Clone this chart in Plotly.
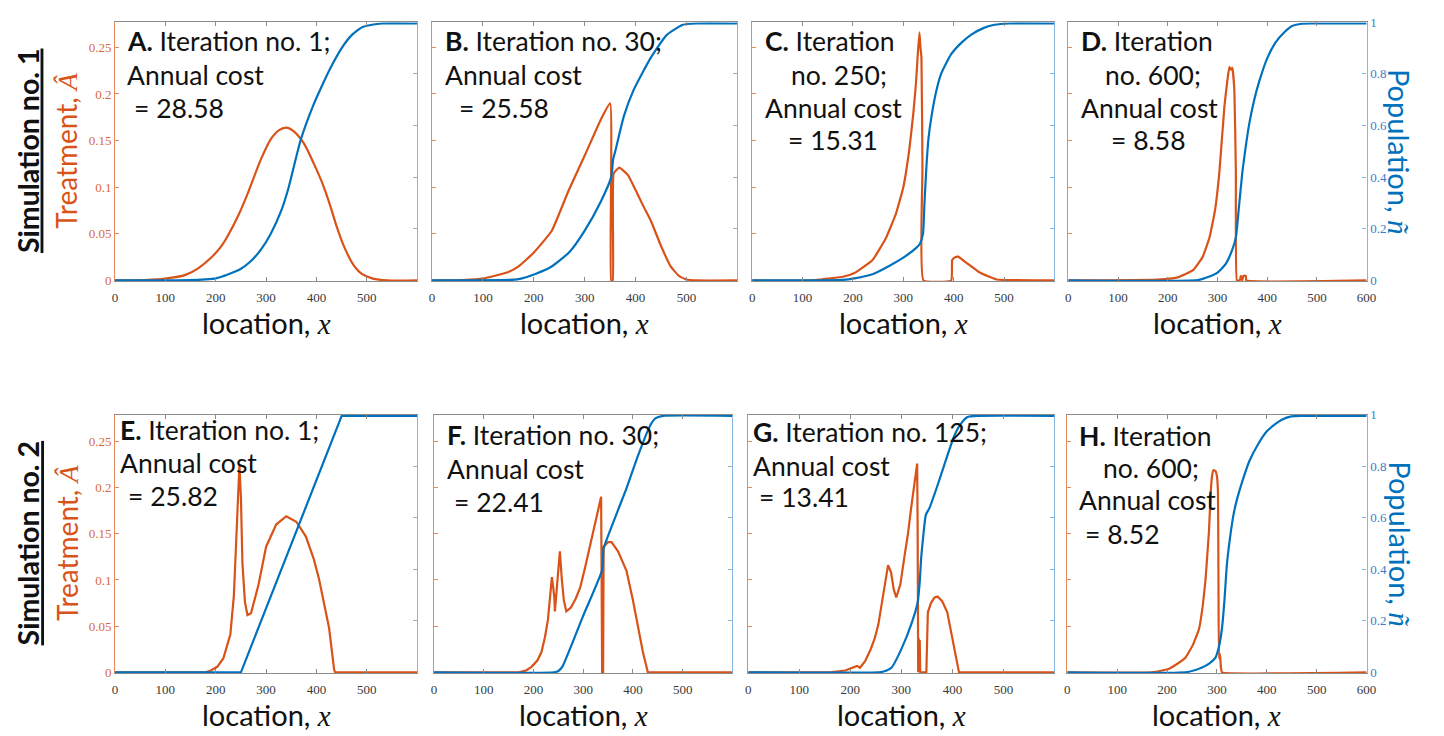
import plotly.graph_objects as go

W, H = 1444, 736
ORANGE = "#D95319"
BLUE = "#0072BD"
ORANGE_AX = "#E48A62"
BLUE_AX = "#86B6E0"

# ---------------- data ----------------
# Panel A  (simulation 1, iteration 1)
A_tx = [0, 60, 100, 140, 165, 190, 210, 224, 245, 264, 289, 310, 325, 340, 355, 375, 395, 414, 428, 440, 455, 473, 490, 512, 540, 600]
A_treat = [0, 0.0005, 0.002, 0.006, 0.013, 0.024, 0.036, 0.048, 0.070, 0.094, 0.129, 0.152, 0.161, 0.164, 0.160, 0.147, 0.125, 0.101, 0.079, 0.058, 0.036, 0.017, 0.007, 0.002, 0, 0]
A_px = [0, 150, 180, 200, 224, 250, 270, 290, 309, 330, 345, 368, 394, 410, 427, 450, 470, 490, 510, 530, 600]
A_pop = [0, 0.001, 0.004, 0.008, 0.023, 0.045, 0.075, 0.12, 0.18, 0.27, 0.362, 0.54, 0.68, 0.75, 0.82, 0.90, 0.95, 0.98, 0.99, 0.995, 0.995]

# Panel B  (simulation 1, iteration 30)
B_tx = [0, 60, 100, 150, 170, 200, 235, 268, 300, 332, 350, 352, 355, 357, 368, 385, 400, 415, 430, 450, 469, 485, 500, 520, 600]
B_treat = [0, 0.0005, 0.002, 0.009, 0.015, 0.030, 0.053, 0.096, 0.134, 0.173, 0.190, 0.0, 0.0, 0.115, 0.121, 0.113, 0.097, 0.080, 0.064, 0.037, 0.015, 0.005, 0.001, 0, 0]
B_px = [0, 150, 170, 203, 235, 270, 300, 332, 352, 356, 360, 377, 396, 430, 461, 493, 520, 600]
B_pop = [0, 0.002, 0.005, 0.025, 0.054, 0.11, 0.193, 0.307, 0.40, 0.47, 0.50, 0.636, 0.737, 0.863, 0.95, 0.99, 0.995, 0.995]

# Panel C  (simulation 1, iteration 250)
C_tx = [0, 120, 150, 180, 203, 239, 265, 285, 300, 312, 320, 325, 329, 332, 334, 336, 338, 340, 395, 397, 403, 409, 420, 435, 450, 468, 485, 600]
C_treat = [0, 0, 0.002, 0.004, 0.008, 0.022, 0.045, 0.071, 0.100, 0.141, 0.180, 0.211, 0.245, 0.266, 0.250, 0.239, 0.120, 0.0, 0.0, 0.022, 0.025, 0.0255, 0.021, 0.015, 0.009, 0.0045, 0.001, 0]
C_px = [0, 180, 203, 240, 270, 303, 325, 333, 339, 342, 346, 350, 356, 365, 375, 395, 415, 435, 460, 481, 510, 600]
C_pop = [0, 0.002, 0.008, 0.025, 0.054, 0.092, 0.125, 0.142, 0.18, 0.30, 0.446, 0.55, 0.636, 0.73, 0.80, 0.876, 0.92, 0.952, 0.978, 0.99, 0.995, 0.995]

# Panel D  (simulation 1, iteration 600)
D_tx = [0, 180, 218, 251, 270, 284, 295, 304, 314, 320, 324, 327, 330, 334, 337, 339, 345, 347, 350, 352, 357, 358, 600]
D_treat = [0, 0.001, 0.003, 0.011, 0.025, 0.046, 0.075, 0.117, 0.187, 0.215, 0.229, 0.226, 0.228, 0.204, 0.117, 0.0, 0.0, 0.005, 0.0, 0.005, 0.005, 0.0, 0]
D_px = [0, 260, 284, 300, 317, 330, 337, 343, 350, 357, 364, 374, 384, 400, 417, 435, 450, 470, 490, 600]
D_pop = [0, 0.001, 0.015, 0.03, 0.065, 0.12, 0.166, 0.28, 0.418, 0.52, 0.607, 0.70, 0.771, 0.86, 0.922, 0.962, 0.985, 0.994, 0.995, 0.995]

# Panel E  (simulation 2, iteration 1)
E_tx = [0, 180, 190, 203, 215, 222, 229, 236, 239, 244, 247, 250, 253, 258, 263, 270, 285, 300, 320, 340, 360, 379, 395, 405, 415, 425, 435, 437, 600]
E_treat = [0, 0, 0.002, 0.006, 0.015, 0.027, 0.041, 0.083, 0.118, 0.189, 0.224, 0.189, 0.118, 0.076, 0.062, 0.064, 0.095, 0.136, 0.160, 0.169, 0.163, 0.147, 0.122, 0.101, 0.076, 0.048, 0.003, 0, 0]
E_px = [0, 250, 450, 600]
E_pop = [0, 0, 0.995, 0.995]

# Panel F  (simulation 2, iteration 30)
F_tx = [0, 170, 185, 196, 208, 216, 223, 229, 233, 237, 240, 242, 243, 247, 250, 253, 257, 261, 266, 275, 285, 294, 304, 314, 325, 336, 337, 338, 340, 341, 350, 357, 370, 387, 400, 407, 415, 420, 430, 600]
F_treat = [0, 0, 0.002, 0.006, 0.013, 0.022, 0.038, 0.057, 0.080, 0.103, 0.090, 0.080, 0.066, 0.095, 0.118, 0.131, 0.100, 0.078, 0.066, 0.070, 0.080, 0.092, 0.114, 0.138, 0.163, 0.190, 0.10, 0.0, 0.0, 0.136, 0.141, 0.141, 0.131, 0.110, 0.078, 0.057, 0.035, 0.022, 0, 0]
F_px = [0, 242, 250, 258, 300, 338, 341, 360, 387, 410, 434, 445, 460, 600]
F_pop = [0, 0, 0.005, 0.022, 0.22, 0.397, 0.48, 0.58, 0.714, 0.84, 0.955, 0.985, 0.995, 0.995]

# Panel G  (simulation 2, iteration 125)
G_tx = [0, 160, 190, 205, 213, 219, 229, 240, 248, 255, 261, 268, 274, 280, 285, 290, 298, 306, 313, 319, 326, 331, 332, 333, 334, 335, 336, 337, 349, 351, 352, 358, 365, 371, 380, 390, 397, 403, 410, 413, 600]
G_treat = [0, 0, 0.002, 0.005, 0.007, 0.005, 0.012, 0.025, 0.037, 0.052, 0.072, 0.095, 0.116, 0.108, 0.090, 0.081, 0.095, 0.125, 0.150, 0.177, 0.205, 0.226, 0.15, 0.0, 0.037, 0.0, 0.035, 0.0, 0.0, 0.045, 0.065, 0.075, 0.081, 0.082, 0.077, 0.065, 0.045, 0.026, 0.008, 0, 0]
G_px = [0, 255, 265, 281, 300, 320, 332, 336, 339, 344, 348, 355, 370, 385, 403, 415, 429, 450, 600]
G_pop = [0, 0, 0.003, 0.019, 0.09, 0.19, 0.271, 0.35, 0.448, 0.55, 0.611, 0.637, 0.72, 0.81, 0.914, 0.96, 0.99, 0.995, 0.995]

# Panel H  (simulation 2, iteration 600)
H_tx = [0, 170, 190, 204, 220, 237, 252, 264, 271, 277, 281, 284, 287, 290, 293, 297, 300, 302, 303, 304, 306, 308, 310, 600]
H_treat = [0, 0, 0.002, 0.004, 0.009, 0.016, 0.030, 0.047, 0.070, 0.100, 0.130, 0.153, 0.190, 0.212, 0.219, 0.218, 0.212, 0.195, 0.10, 0.015, 0.02, 0.005, 0.0, 0]
H_px = [0, 240, 270, 285, 297, 304, 310, 315, 320, 326, 333, 340, 350, 365, 383, 400, 416, 430, 449, 470, 600]
H_pop = [0, 0.001, 0.019, 0.035, 0.057, 0.10, 0.17, 0.28, 0.421, 0.52, 0.61, 0.67, 0.736, 0.82, 0.887, 0.935, 0.962, 0.98, 0.993, 0.995, 0.995]

X_TICKS = [0, 100, 200, 300, 400, 500]
X_TICKS_LAST = [0, 100, 200, 300, 400, 500, 600]
TREAT_TICKS = [0, 0.05, 0.1, 0.15, 0.2, 0.25]
TREAT_LABELS = ["0", "0.05", "0.1", "0.15", "0.2", "0.25"]
POP_TICKS = [0, 0.2, 0.4, 0.6, 0.8, 1]
POP_LABELS = ["0", "0.2", "0.4", "0.6", "0.8", "1"]

PANEL_TEXT = {
    "A": [("<b>A.</b> Iteration no. 1;", 123, 35), ("Annual cost", 123, 69), ("= 28.58", 130, 103)],
    "B": [("<b>B.</b> Iteration no. 30;", 444, 35), ("Annual cost", 444, 69), ("= 25.58", 458, 103)],
    "C": [("<b>C.</b> Iteration", 767, 35), ("no. 250;", 793, 69), ("Annual cost", 767, 103), ("= 15.31", 790, 136)],
    "D": [("<b>D.</b> Iteration", 1086, 35), ("no. 600;", 1110, 69), ("Annual cost", 1086, 103), ("= 8.58", 1116, 136)],
    "E": [("<b>E.</b> Iteration no. 1;", 116, 431), ("Annual cost", 116, 465), ("= 25.82", 124, 498)],
    "F": [("<b>F.</b> Iteration no. 30;", 446, 436), ("Annual cost", 446, 471), ("= 22.41", 453, 505)],
    "G": [("<b>G.</b> Iteration no. 125;", 755, 433), ("Annual cost", 755, 468), ("= 13.41", 761, 500)],
    "H": [("<b>H.</b> Iteration", 1084, 437), ("no. 600;", 1108, 470), ("Annual cost", 1084, 503), ("= 8.52", 1090, 537)],
}

# ---------------- layout geometry (pixels) ----------------
ROW1 = (15.5, 279.5)
ROW2 = (415.5, 679)
panels = [
    ("A", A_tx, A_treat, A_px, A_pop, (113, 418), ROW1, 0.277),
    ("B", B_tx, B_treat, B_px, B_pop, (433, 741), ROW1, 0.277),
    ("C", C_tx, C_treat, C_px, C_pop, (756, 1061), ROW1, 0.277),
    ("D", D_tx, D_treat, D_px, D_pop, (1075, 1376), ROW1, 0.277),
    ("E", E_tx, E_treat, E_px, E_pop, (113, 418), ROW2, 0.279),
    ("F", F_tx, F_treat, F_px, F_pop, (435, 736), ROW2, 0.279),
    ("G", G_tx, G_treat, G_px, G_pop, (752, 1061), ROW2, 0.279),
    ("H", H_tx, H_treat, H_px, H_pop, (1074, 1376), ROW2, 0.279),
]
TREAT_SMOOTH = {"A": 0.7, "B": 0.4, "C": 0.35, "D": 0.3, "H": 0.3}

fig = go.Figure()
layout = {}
annotations = []
TEXT_FONT = "Lato, Carlito, sans-serif"
TICK_FONT = dict(family="Liberation Serif, Times New Roman, serif", size=13)
MATH = "<i><span style='font-family:Liberation Serif'>{}</span></i>"

for i, (name, tx, tv, px, pv, (x0, x1), (y0, y1), tmax) in enumerate(panels):
    n = i + 1
    xa = "x" if n == 1 else f"x{n}"
    yl_n = 2 * n - 1
    yr_n = 2 * n
    yl = "y" if yl_n == 1 else f"y{yl_n}"
    yr = f"y{yr_n}"
    col = i % 4
    if name in TREAT_SMOOTH:
        tshape = dict(shape="spline", smoothing=TREAT_SMOOTH[name])
    else:
        tshape = dict(shape="linear")
    pshape = dict(shape="linear") if name == "E" else dict(shape="spline", smoothing=0.5)
    fig.add_trace(go.Scatter(x=tx, y=tv, mode="lines", line=dict(color=ORANGE, width=2.2, **tshape),
                             xaxis=xa, yaxis=yl, showlegend=False, hoverinfo="skip"))
    fig.add_trace(go.Scatter(x=px, y=pv, mode="lines", line=dict(color=BLUE, width=2.2, **pshape),
                             xaxis=xa, yaxis=yr, showlegend=False, hoverinfo="skip"))
    ydom = [1 - y1 / H, 1 - y0 / H]
    last = col == 3
    layout["xaxis" if n == 1 else f"xaxis{n}"] = dict(
        domain=[x0 / W, x1 / W], anchor=yl, range=[0, 600],
        tickvals=X_TICKS_LAST if last else X_TICKS,
        showline=True, linecolor="#8c8c8c", linewidth=1, mirror="ticks",
        ticks="inside", ticklen=4, tickcolor="#8c8c8c",
        showgrid=False, zeroline=False,
        tickfont=dict(color="#3a3a3a", **TICK_FONT), ticklabelstandoff=4,
    )
    layout["yaxis" if yl_n == 1 else f"yaxis{yl_n}"] = dict(
        domain=ydom, anchor=xa, range=[-0.0008, tmax],
        tickvals=TREAT_TICKS, ticktext=TREAT_LABELS, showticklabels=(col == 0),
        showline=True, linecolor=ORANGE_AX, linewidth=1,
        ticks="inside", ticklen=4, tickcolor=ORANGE_AX,
        showgrid=False, zeroline=False,
        tickfont=dict(color="#DA6A3A", **TICK_FONT),
    )
    layout[f"yaxis{yr_n}"] = dict(
        overlaying=yl, anchor=xa, side="right", range=[-0.003, 1.0],
        tickvals=POP_TICKS, ticktext=POP_LABELS, showticklabels=last,
        showline=True, linecolor=BLUE_AX, linewidth=1.3,
        ticks="inside", ticklen=4, tickcolor=BLUE_AX,
        showgrid=False, zeroline=False,
        tickfont=dict(color="#3C7CC4", **TICK_FONT),
    )
    for (txt, X, Y) in PANEL_TEXT[name]:
        annotations.append(dict(text=txt, x=X / W, y=1 - Y / H, xref="paper", yref="paper",
                                xanchor="left", yanchor="middle", showarrow=False,
                                font=dict(family=TEXT_FONT, size=26.5, color="#111111")))
    # x-axis title
    annotations.append(dict(text="location, " + MATH.format("x"),
                            x=(x0 + x1) / 2 / W, y=1 - (y1 + 42) / H, xref="paper", yref="paper",
                            xanchor="center", yanchor="middle", showarrow=False,
                            font=dict(family=TEXT_FONT, size=29, color="#111111")))

for row_label, yc in (("Simulation no. 1", 146), ("Simulation no. 2", 546)):
    annotations.append(dict(text=f"<b>{row_label}</b>", x=25 / W, y=1 - yc / H, xref="paper", yref="paper",
                            xanchor="center", yanchor="middle", showarrow=False, textangle=-90,
                            font=dict(family=TEXT_FONT, size=28.5, color="#111111", lineposition="under")))
    annotations.append(dict(text="Treatment, " + MATH.format("Â"),
                            x=64 / W, y=1 - yc / H, xref="paper", yref="paper",
                            xanchor="center", yanchor="middle", showarrow=False, textangle=-90,
                            font=dict(family=TEXT_FONT, size=28, color=ORANGE)))
    annotations.append(dict(text="Population, " + MATH.format("ñ"),
                            x=1410 / W, y=1 - (yc + 2) / H, xref="paper", yref="paper",
                            xanchor="center", yanchor="middle", showarrow=False, textangle=90,
                            font=dict(family=TEXT_FONT, size=29, color=BLUE)))

fig.update_layout(
    width=W, height=H, margin=dict(l=0, r=0, t=0, b=0),
    paper_bgcolor="white", plot_bgcolor="white",
    annotations=annotations, **layout,
)
fig.write_html("out.html", config={"displayModeBar": False},
               post_script="document.body.style.margin='0px';document.body.style.overflow='hidden';")
